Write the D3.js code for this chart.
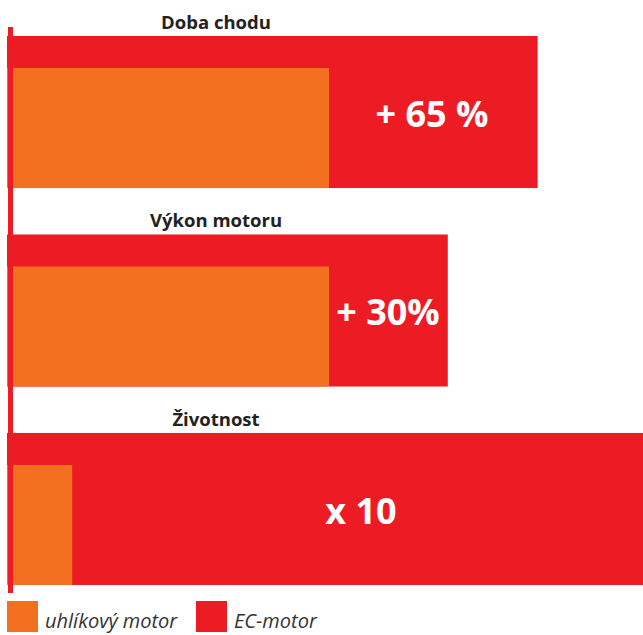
<!DOCTYPE html>
<html><head><meta charset="utf-8">
<script src="https://cdn.jsdelivr.net/npm/d3@7"></script>
<style>html,body{margin:0;padding:0;background:#fff;}svg{display:block;}</style>
</head><body>
<script>
const categories = ["Doba chodu", "Výkon motoru", "Životnost"];
const carbonValues = [100, 100, 20];      // uhlíkový motor
const ecValues = [165, 137, 200];         // EC-motor
const labels = ["+ 65 %", "+ 30%", "x 10"];
const seriesNames = ["uhlíkový motor", "EC-motor"];

const W = 643, H = 635;
const colors = {carbon: "#F37021", ec: "#ED1C24"};
const svg = d3.select("body").append("svg").attr("width", W).attr("height", H);

const x = d3.scaleLinear().domain([0, 100]).range([8, 329]);
const y = d3.scaleBand().domain(categories).range([36, 585]).paddingInner(0.234).paddingOuter(0);
const bw = y.bandwidth();

const g = svg.selectAll("g.grp").data(categories).join("g").attr("class", "grp");

g.append("rect")
  .attr("x", 7)
  .attr("y", d => y(d))
  .attr("width", (d, i) => x(ecValues[i]) - 7)
  .attr("height", bw)
  .attr("fill", colors.ec);

g.append("rect")
  .attr("x", 7)
  .attr("y", d => y(d) + 32)
  .attr("width", (d, i) => x(carbonValues[i]) - 7)
  .attr("height", bw - 32)
  .attr("fill", colors.carbon);

g.append("text")
  .attr("x", 216)
  .attr("y", d => y(d) - 7)
  .attr("text-anchor", "middle")
  .attr("font-family", "Open Sans, sans-serif")
  .attr("font-weight", "bold")
  .attr("font-size", 18.5)
  .attr("fill", "#222")
  .text(d => d);

const labelX = [432, 388, 361];
g.append("text")
  .attr("x", (d, i) => labelX[i])
  .attr("y", d => y(d) + 91)
  .attr("text-anchor", "middle")
  .attr("font-family", "Open Sans, sans-serif")
  .attr("font-weight", "bold")
  .attr("font-size", 36)
  .attr("fill", "#fff")
  .text((d, i) => labels[i]);

// axis line
svg.append("rect").attr("x", 8).attr("y", 27).attr("width", 5).attr("height", 566).attr("fill", colors.ec);

// legend
const leg = svg.selectAll("g.leg").data(seriesNames).join("g").attr("class", "leg")
  .attr("transform", (d, i) => `translate(${[7, 196][i]},601)`);
leg.append("rect").attr("width", 31).attr("height", 31).attr("fill", (d, i) => i ? colors.ec : colors.carbon);
leg.append("text").attr("x", 38).attr("y", 27)
  .attr("font-family", "Open Sans, sans-serif")
  .attr("font-style", "italic")
  .attr("font-size", 20)
  .attr("fill", "#333")
  .text(d => d);
</script>
</body></html>
